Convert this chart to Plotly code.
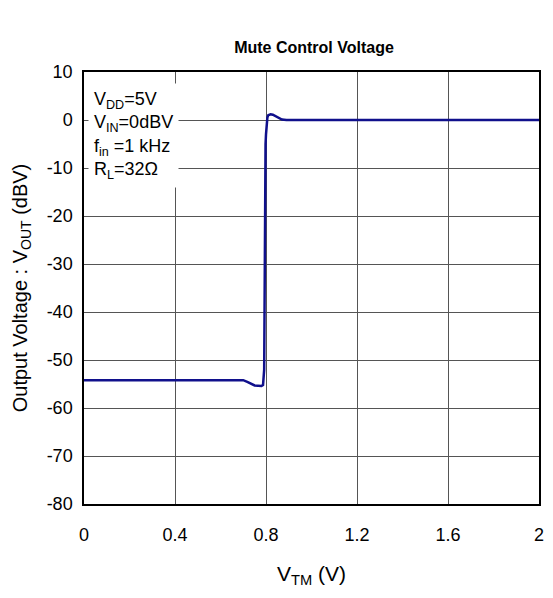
import plotly.graph_objects as go

vtm = [0.0, 0.70, 0.72, 0.75, 0.78, 0.787, 0.792, 0.794, 0.796, 0.798, 0.800, 0.803, 0.806, 0.81, 0.82, 0.83, 0.85, 0.87, 0.89, 0.90, 2.0]
vout = [-54.2, -54.2, -54.6, -55.3, -55.4, -55.2, -52.0, -30.0, -10.0, -5.0, -3.0, -0.5, 0.5, 1.0, 1.2, 1.1, 0.6, 0.1, 0.0, 0.0, 0.0]

x_ticks = [0, 0.4, 0.8, 1.2, 1.6, 2]
x_labels = ["0", "0.4", "0.8", "1.2", "1.6", "2"]
y_ticks = [10, 0, -10, -20, -30, -40, -50, -60, -70, -80]
y_labels = ["10", "0", "-10", "-20", "-30", "-40", "-50", "-60", "-70", "-80"]

cond_text = "V<sub>DD</sub>=5V<br>V<sub>IN</sub>=0dBV<br>f<sub>in</sub> =1 kHz<br>R<sub>L</sub>=32Ω"

FONT = "Liberation Sans, Arial, sans-serif"

fig = go.Figure()
fig.add_trace(go.Scatter(x=vtm, y=vout, mode="lines",
                         line=dict(color="#10108c", width=2.5), showlegend=False))

fig.update_layout(
    width=553, height=598,
    margin=dict(l=84, r=9, t=72, b=94),
    paper_bgcolor="white", plot_bgcolor="white",
    font=dict(family=FONT, size=16, color="black"),
    title=dict(text="<b>Mute Control Voltage</b>", x=(84 + 230) / 553, xanchor="center",
               y=1 - 47 / 598, yanchor="middle", font=dict(size=16, family=FONT)),
    xaxis=dict(range=[0, 2], tickvals=x_ticks, ticktext=x_labels,
               showgrid=True, gridcolor="#555555", gridwidth=1,
               showline=True, linecolor="black", linewidth=1.5, mirror=True,
               ticks="", zeroline=False, tickfont=dict(size=18), ticklabelstandoff=14,
               title=dict(text="V<sub>TM</sub> (V)", font=dict(size=21), standoff=22)),
    yaxis=dict(range=[-80, 10], tickvals=y_ticks, ticktext=y_labels,
               showgrid=True, gridcolor="#555555", gridwidth=1,
               showline=True, linecolor="black", linewidth=1.5, mirror=True,
               ticks="", zeroline=False, tickfont=dict(size=18), ticklabelstandoff=6,
               title=dict(text="Output Voltage : V<sub>OUT</sub> (dBV)", font=dict(size=20), standoff=14)),
    annotations=[dict(text=cond_text, xref="paper", yref="paper", x=0.008, y=0.975,
                      xanchor="left", yanchor="top", align="left", showarrow=False,
                      bgcolor="white", borderpad=5, font=dict(size=18, family=FONT))],
)

fig.write_html("out.html")
